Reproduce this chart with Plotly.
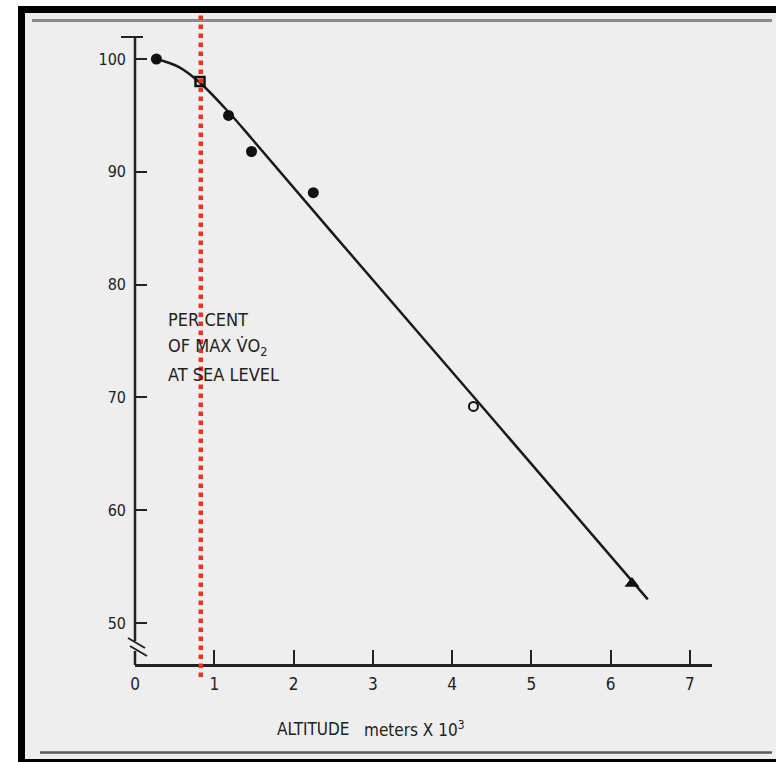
import plotly.graph_objects as go

# ---------------- data ----------------
curve_alt = [0.27, 0.55, 0.82, 1.18, 1.49, 2.50, 4.50, 6.47]
curve_pct = [100.0, 99.3, 97.9, 95.3, 92.8, 84.5, 68.2, 52.1]

filled_alt = [0.27, 1.18, 1.47, 2.25]
filled_pct = [100.0, 95.0, 91.8, 88.15]

square_alt = [0.82]
square_pct = [98.0]

open_alt = [4.27]
open_pct = [69.2]

tri_alt = [6.27]
tri_pct = [53.5]

ref_altitude = 0.83

x_ticks = [0, 1, 2, 3, 4, 5, 6, 7]
y_ticks = [50, 60, 70, 80, 90, 100]

label_lines = ["PER CENT", "OF MAX V\u0307O<sub>2</sub>", "AT SEA LEVEL"]
x_title_a = "ALTITUDE"
x_title_b = "meters X 10<sup>3</sup>"

# ---------------- geometry helpers ----------------
W, H = 776, 762
L, R, T, B = 135, 712, 37, 664


def px(x):
    return (x - L) / (R - L)


def py(y):
    return (B - y) / (B - T)


FONT = "Liberation Sans Narrow, Arial Narrow, DejaVu Sans Condensed, Liberation Sans, sans-serif"
INK = "#222222"
BG = "#eeeeee"

fig = go.Figure()

fig.add_trace(go.Scatter(x=curve_alt, y=curve_pct, mode="lines",
                         line=dict(color="#1a1a1a", width=2.5, shape="spline", smoothing=1.0),
                         hoverinfo="skip", showlegend=False))
fig.add_trace(go.Scatter(x=filled_alt, y=filled_pct, mode="markers",
                         marker=dict(symbol="circle", size=11, color="#111111"),
                         showlegend=False))
fig.add_trace(go.Scatter(x=square_alt, y=square_pct, mode="markers",
                         marker=dict(symbol="square-open", size=9, color="#111111",
                                     line=dict(width=2.5, color="#111111")),
                         showlegend=False))
fig.add_trace(go.Scatter(x=open_alt, y=open_pct, mode="markers",
                         marker=dict(symbol="circle-open", size=9, color="#111111",
                                     line=dict(width=2, color="#111111")),
                         showlegend=False))
fig.add_trace(go.Scatter(x=tri_alt, y=tri_pct, mode="markers",
                         marker=dict(symbol="triangle-up", size=13, color="#111111"),
                         showlegend=False))

shapes = []
# page frame
shapes.append(dict(type="rect", xref="paper", yref="paper", x0=px(0), x1=px(W), y0=py(0), y1=py(6),
                   fillcolor="white", line=dict(width=0), layer="below"))
shapes.append(dict(type="rect", xref="paper", yref="paper", x0=px(0), x1=px(18), y0=py(0), y1=py(H),
                   fillcolor="white", line=dict(width=0), layer="below"))
shapes.append(dict(type="rect", xref="paper", yref="paper", x0=px(18), x1=px(W), y0=py(6), y1=py(13),
                   fillcolor="black", line=dict(width=0)))
shapes.append(dict(type="rect", xref="paper", yref="paper", x0=px(18), x1=px(25), y0=py(6), y1=py(H),
                   fillcolor="black", line=dict(width=0)))
shapes.append(dict(type="rect", xref="paper", yref="paper", x0=px(18), x1=px(W), y0=py(759), y1=py(H),
                   fillcolor="black", line=dict(width=0)))
shapes.append(dict(type="line", xref="paper", yref="paper", x0=px(32), x1=px(772), y0=py(20.5), y1=py(20.5),
                   line=dict(color="#8a8a8a", width=3)))
shapes.append(dict(type="line", xref="paper", yref="paper", x0=px(40), x1=px(772), y0=py(752.5), y1=py(752.5),
                   line=dict(color="#5a5a5a", width=2.5)))
# y axis with break and top cap
shapes.append(dict(type="line", xref="paper", yref="paper", x0=px(135), x1=px(135), y0=py(37), y1=py(641),
                   line=dict(color=INK, width=2.5)))
shapes.append(dict(type="line", xref="paper", yref="paper", x0=px(135), x1=px(135), y0=py(651), y1=py(665),
                   line=dict(color=INK, width=2.5)))
shapes.append(dict(type="line", xref="paper", yref="paper", x0=px(121), x1=px(143), y0=py(37), y1=py(37),
                   line=dict(color=INK, width=2)))
shapes.append(dict(type="line", xref="paper", yref="paper", x0=px(128), x1=px(145), y0=py(638), y1=py(648),
                   line=dict(color=INK, width=2)))
shapes.append(dict(type="line", xref="paper", yref="paper", x0=px(130), x1=px(147), y0=py(646), y1=py(656),
                   line=dict(color=INK, width=2)))
# red dotted reference line
shapes.append(dict(type="line", xref="x", yref="paper", x0=ref_altitude, x1=ref_altitude,
                   y0=py(677), y1=py(15), line=dict(color="#f5301e", width=4.5, dash="4.5px,4.5px")))

annotations = []
for i, txt in enumerate(label_lines):
    annotations.append(dict(text=txt, xref="paper", yref="paper", x=px(166), y=py(320 + 27 * i),
                            xanchor="left", yanchor="middle", showarrow=False,
                            font=dict(family=FONT, size=18, color=INK)))
annotations.append(dict(text=x_title_a, xref="paper", yref="paper", x=px(275), y=py(729),
                        xanchor="left", yanchor="middle", showarrow=False,
                        font=dict(family=FONT, size=17, color=INK)))
annotations.append(dict(text=x_title_b, xref="paper", yref="paper", x=px(362), y=py(729),
                        xanchor="left", yanchor="middle", showarrow=False,
                        font=dict(family=FONT, size=17, color=INK)))

fig.update_layout(
    width=W, height=H,
    margin=dict(l=L, r=W - R, t=T, b=H - B, pad=0),
    paper_bgcolor=BG, plot_bgcolor=BG,
    font=dict(family=FONT, size=17, color=INK),
    shapes=shapes, annotations=annotations,
    showlegend=False,
    xaxis=dict(range=[0, 7.28], tickvals=x_ticks, ticks="inside", ticklen=14, tickwidth=2,
               tickcolor=INK, showline=True, linecolor=INK, linewidth=2.5, showgrid=False,
               zeroline=False, ticklabelstandoff=3, tickfont=dict(family=FONT, size=17, color=INK)),
    yaxis=dict(range=[46.37, 101.95], tickvals=y_ticks, ticks="inside", ticklen=12, tickwidth=2,
               tickcolor=INK, showline=False, showgrid=False, zeroline=False,
               ticklabelstandoff=8, tickfont=dict(family=FONT, size=16, color=INK)),
)

fig.write_html("out.html")
